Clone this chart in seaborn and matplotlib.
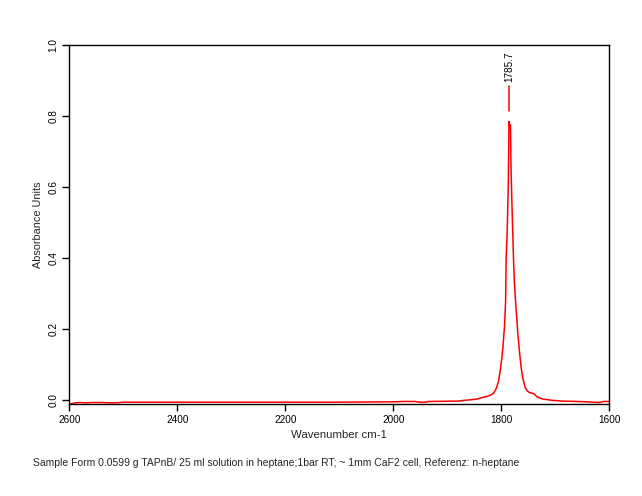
import matplotlib
matplotlib.use("Agg")
import matplotlib.pyplot as plt
import seaborn as sns
import pandas as pd

wavenumber = [2600, 2595, 2590, 2580, 2570, 2560, 2540, 2520, 2505, 2500, 2300, 2100,
              2000, 1980, 1960, 1952, 1940, 1935, 1880, 1870, 1855, 1845, 1835, 1825,
              1818, 1813, 1809, 1805, 1802, 1799, 1797, 1794, 1792, 1791, 1789, 1787,
              1785.7, 1784.5, 1783, 1782, 1780, 1777.5, 1775.7, 1773, 1771, 1769.5,
              1766, 1763, 1760, 1756, 1752, 1748, 1740, 1733, 1724, 1705, 1687, 1660,
              1643, 1630, 1618, 1610, 1600]
absorbance = [-0.010, -0.009, -0.007, -0.006, -0.007, -0.006, -0.006, -0.007, -0.006,
              -0.005, -0.005, -0.005, -0.004, -0.003, -0.003, -0.005, -0.005, -0.003,
              -0.002, 0.000, 0.002, 0.004, 0.008, 0.012, 0.016, 0.023, 0.035, 0.055,
              0.085, 0.118, 0.150, 0.210, 0.280, 0.400, 0.480, 0.610, 0.785, 0.770,
              0.775, 0.656, 0.535, 0.404, 0.330, 0.265, 0.225, 0.190, 0.132, 0.090,
              0.062, 0.037, 0.027, 0.022, 0.019, 0.009, 0.004, 0.000, -0.002, -0.003,
              -0.004, -0.005, -0.006, -0.003, -0.003]

peak_position = 1785.7
peak_label = "1785.7"
peak_marker = [0.815, 0.885]

x_ticks = [2600, 2400, 2200, 2000, 1800, 1600]
y_ticks = [0.0, 0.2, 0.4, 0.6, 0.8, 1.0]

footer = "Sample Form 0.0599 g TAPnB/ 25 ml solution in heptane;1bar RT; ~ 1mm CaF2 cell, Referenz: n-heptane"

sns.set_theme(style="white")
plt.rcParams['font.family'] = ['Liberation Sans', 'DejaVu Sans']

fig = plt.figure(figsize=(6.42, 4.96), dpi=100)
ax = fig.add_axes([69.3 / 642, 1 - 404.3 / 496, 540 / 642, (404.3 - 45) / 496])

df = pd.DataFrame({"wn": wavenumber, "A": absorbance})
sns.lineplot(data=df, x="wn", y="A", ax=ax, color="red", linewidth=1.1,
             estimator=None, sort=False)

ax.plot([peak_position, peak_position], peak_marker, color="red", linewidth=1.1)
ax.text(peak_position, 0.895, peak_label, rotation=90, ha="center", va="bottom",
        fontsize=7.2, color="black")

ax.set_xlim(2600, 1600)
ax.set_ylim(-0.011, 1.0)
ax.set_xticks(x_ticks)
ax.set_xticklabels([str(t) for t in x_ticks])
ax.set_yticks(y_ticks)
ax.set_yticklabels([f"{t:.1f}" for t in y_ticks], rotation=90, va="center")

ax.tick_params(axis="both", direction="out", length=5, width=1, colors="black",
               labelsize=7.2, bottom=True, left=True, pad=3)
for s in ax.spines.values():
    s.set_color("black")
    s.set_linewidth(1)

ax.set_xlabel("Wavenumber cm-1", fontsize=8.2, labelpad=3)
ax.set_ylabel("Absorbance Units", fontsize=7.8, labelpad=4)

fig.text(33 / 642, 1 - 463 / 496, footer, fontsize=7.5, ha="left", va="center")

fig.savefig("out.png", dpi=100)
